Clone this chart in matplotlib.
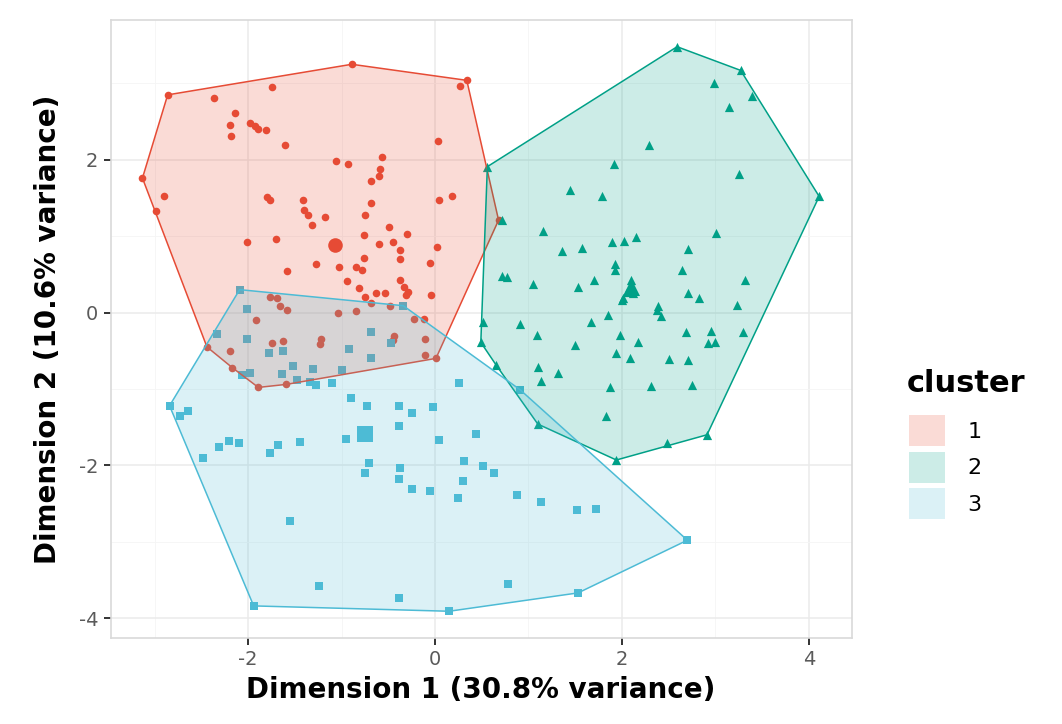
import numpy as np
import matplotlib
matplotlib.use("Agg")
import matplotlib.pyplot as plt
from matplotlib.patches import Polygon, Patch
from matplotlib.colors import to_rgba

plt.rcParams["axes.unicode_minus"] = False

# ---------------- data ----------------
cluster1_points = [
    (-2.86, 2.85), (-2.36, 2.81), (-1.74, 2.95), (-0.89, 3.25), (0.34, 3.04), (0.27, 2.96),
    (-2.14, 2.61), (-2.19, 2.45), (-2.18, 2.31), (-1.98, 2.48), (-1.93, 2.44), (-1.89, 2.40),
    (-1.81, 2.39), (-1.61, 2.19), (0.03, 2.24), (-1.06, 1.98), (-0.93, 1.94), (-0.57, 2.04),
    (-0.59, 1.88), (-0.60, 1.79), (-0.68, 1.72), (-3.13, 1.76), (-2.90, 1.52), (-2.99, 1.33),
    (-1.80, 1.51), (-1.76, 1.47), (-1.41, 1.47), (-1.40, 1.34), (-1.36, 1.28), (-1.18, 1.25),
    (-1.32, 1.14), (-0.68, 1.44), (-0.75, 1.28), (0.04, 1.48), (0.18, 1.53), (0.68, 1.21),
    (-2.01, 0.93), (-1.70, 0.96), (-0.49, 1.12), (-0.30, 1.03), (-0.76, 1.01), (-0.60, 0.90),
    (-0.45, 0.93), (-0.37, 0.82), (-0.37, 0.70), (0.02, 0.86), (-0.76, 0.71), (-0.05, 0.65),
    (-1.27, 0.63), (-1.03, 0.60), (-0.84, 0.60), (-0.78, 0.56), (-1.58, 0.54), (-0.94, 0.41),
    (-0.81, 0.32), (-0.75, 0.21), (-0.63, 0.25), (-0.53, 0.26), (-0.37, 0.42), (-0.33, 0.34),
    (-0.29, 0.27), (-0.31, 0.23), (-0.04, 0.23), (-1.76, 0.21), (-1.69, 0.19), (-1.66, 0.08),
    (-1.58, 0.03), (-1.92, -0.10), (-1.04, -0.01), (-0.84, 0.02), (-0.68, 0.12), (-0.48, 0.08),
    (-0.23, -0.08), (-0.12, -0.09), (-1.74, -0.40), (-1.63, -0.37), (-1.22, -0.35), (-1.23, -0.41),
    (-0.44, -0.31), (-0.45, -0.36), (-0.11, -0.35), (-0.11, -0.55), (0.01, -0.60), (-2.44, -0.45),
    (-2.19, -0.50), (-2.17, -0.72), (-1.89, -0.98), (-1.59, -0.94),
]
cluster2_points = [
    (2.59, 3.48), (3.27, 3.17), (2.99, 3.00), (3.39, 2.83), (3.14, 2.69), (2.29, 2.19),
    (1.91, 1.95), (3.25, 1.82), (0.56, 1.91), (4.11, 1.52), (1.44, 1.61), (1.79, 1.52),
    (0.72, 1.21), (1.15, 1.07), (1.89, 0.93), (2.02, 0.94), (2.15, 0.99), (3.01, 1.04),
    (1.36, 0.80), (1.57, 0.84), (2.71, 0.83), (1.93, 0.64), (1.93, 0.56), (0.72, 0.48),
    (0.77, 0.46), (1.05, 0.38), (1.70, 0.43), (1.53, 0.34), (2.64, 0.56), (3.32, 0.43),
    (2.10, 0.43), (2.09, 0.34), (2.05, 0.27), (2.12, 0.25), (2.01, 0.19), (2.71, 0.25),
    (2.82, 0.19), (3.23, 0.10), (2.39, 0.08), (2.37, 0.03), (2.42, -0.05), (1.85, -0.03),
    (1.67, -0.13), (0.91, -0.15), (0.51, -0.13), (2.00, 0.16), (1.09, -0.30), (1.98, -0.30),
    (2.17, -0.39), (2.69, -0.26), (2.95, -0.24), (3.30, -0.26), (2.92, -0.40), (3.00, -0.38),
    (1.50, -0.43), (0.49, -0.39), (1.94, -0.53), (2.09, -0.59), (2.50, -0.61), (2.71, -0.62),
    (0.65, -0.68), (1.10, -0.71), (1.32, -0.79), (1.13, -0.89), (1.87, -0.98), (2.31, -0.96),
    (2.75, -0.95), (1.83, -1.35), (1.10, -1.46), (1.94, -1.93), (2.48, -1.71), (2.91, -1.60),
]
cluster3_points = [
    (-2.09, 0.30), (-2.01, 0.05), (-0.34, 0.09), (-2.33, -0.28), (-2.01, -0.34), (-0.69, -0.25),
    (-1.78, -0.53), (-1.63, -0.50), (-0.92, -0.48), (-0.68, -0.60), (-0.47, -0.40), (-1.52, -0.70),
    (-1.30, -0.74), (-0.99, -0.75), (-2.06, -0.82), (-1.98, -0.79), (-1.64, -0.80), (-1.48, -0.88),
    (-1.34, -0.91), (-1.27, -0.95), (-1.10, -0.92), (0.26, -0.92), (-2.84, -1.22), (-2.73, -1.36),
    (-2.64, -1.29), (-0.90, -1.12), (-0.73, -1.22), (-0.38, -1.22), (-0.25, -1.31), (-0.02, -1.23),
    (-0.39, -1.48), (-0.95, -1.66), (0.04, -1.67), (0.44, -1.59), (-2.48, -1.91), (-2.31, -1.76),
    (-2.20, -1.68), (-2.10, -1.71), (-1.76, -1.84), (-1.68, -1.74), (-1.44, -1.70), (-0.71, -1.97),
    (-0.75, -2.10), (-0.37, -2.04), (-0.39, -2.18), (-0.25, -2.31), (-0.05, -2.34), (0.31, -1.94),
    (0.51, -2.01), (0.63, -2.10), (0.30, -2.20), (0.25, -2.43), (0.88, -2.39), (-1.55, -2.73),
    (-1.24, -3.58), (-0.38, -3.74), (0.78, -3.55), (-1.94, -3.84), (0.15, -3.91), (0.91, -1.01),
    (1.13, -2.48), (1.52, -2.59), (1.72, -2.57), (2.70, -2.98), (1.53, -3.67),
]
cluster_centers = [(-1.07, 0.89), (2.10, 0.34), (-0.75, -1.59)]
cluster_labels = ["1", "2", "3"]
cluster_colors = ["#E64B35", "#00A087", "#4DBBD5"]
cluster_markers = ["o", "^", "s"]
x_ticks = [-2, 0, 2, 4]
y_ticks = [-4, -2, 0, 2]
x_title = "Dimension 1 (30.8% variance)"
y_title = "Dimension 2 (10.6% variance)"
legend_title = "cluster"


def convex_hull(points):
    pts = sorted(set(map(tuple, points)))
    def cross(o, a, b):
        return (a[0] - o[0]) * (b[1] - o[1]) - (a[1] - o[1]) * (b[0] - o[0])
    lower, upper = [], []
    for p in pts:
        while len(lower) >= 2 and cross(lower[-2], lower[-1], p) <= 0:
            lower.pop()
        lower.append(p)
    for p in reversed(pts):
        while len(upper) >= 2 and cross(upper[-2], upper[-1], p) <= 0:
            upper.pop()
        upper.append(p)
    return np.array(lower[:-1] + upper[:-1])


fig = plt.figure(figsize=(10.62, 7.24), dpi=100)
ax = fig.add_axes([0.1042, 0.1188, 0.6977, 0.8536])

clusters = [cluster1_points, cluster2_points, cluster3_points]
sizes = [30, 44, 30]
center_sizes = [110, 150, 125]

for pts, ctr, col, mk, s, cs in zip(clusters, cluster_centers, cluster_colors,
                                    cluster_markers, sizes, center_sizes):
    arr = np.array(pts)
    ax.scatter(arr[:, 0], arr[:, 1], marker=mk, s=s, color=col, linewidths=0, zorder=2)
    ax.scatter([ctr[0]], [ctr[1]], marker=mk, s=cs, color=col, linewidths=0, zorder=2)

for i, (pts, col) in enumerate(zip(clusters, cluster_colors)):
    h = convex_hull(pts)
    ax.add_patch(Polygon(h, closed=True, facecolor=to_rgba(col, 0.2),
                         edgecolor=col, linewidth=1.1, zorder=3 + i))

ax.set_xlim(-3.47, 4.457)
ax.set_ylim(-4.26, 3.83)
ax.set_xticks(x_ticks)
ax.set_yticks(y_ticks)
ax.set_xticks([-3, -1, 1, 3], minor=True)
ax.set_yticks([-3, -1, 1, 3], minor=True)
ax.grid(which="major", color="#EBEBEB", linewidth=1.1)
ax.grid(which="minor", color="#F5F5F5", linewidth=0.6)
ax.set_axisbelow(True)
ax.tick_params(which="minor", length=0)
ax.tick_params(which="major", length=5, width=1.4, color="#333333",
               labelsize=14, labelcolor="#5A5A5A", pad=4)
for sp in ax.spines.values():
    sp.set_color("#D9D9D9")
    sp.set_linewidth(1.2)

ax.set_xlabel(x_title, fontsize=20, fontweight="bold", labelpad=5)
ax.set_ylabel(y_title, fontsize=20, fontweight="bold", labelpad=12)

handles = [Patch(facecolor=to_rgba(c, 0.2), edgecolor="none") for c in cluster_colors]
ax.legend(handles, cluster_labels, loc="upper left",
          bbox_to_anchor=(909 / 1062, 1 - 415 / 724), bbox_transform=fig.transFigure,
          frameon=False, fontsize=16,
          handlelength=1.62, handleheight=1.77, labelspacing=0.25, handletextpad=1.0,
          borderpad=0, borderaxespad=0)
fig.text(907 / 1062, 1 - 392 / 724, legend_title, fontsize=22, fontweight="bold",
         ha="left", va="baseline")

fig.savefig("out.png", dpi=100)
